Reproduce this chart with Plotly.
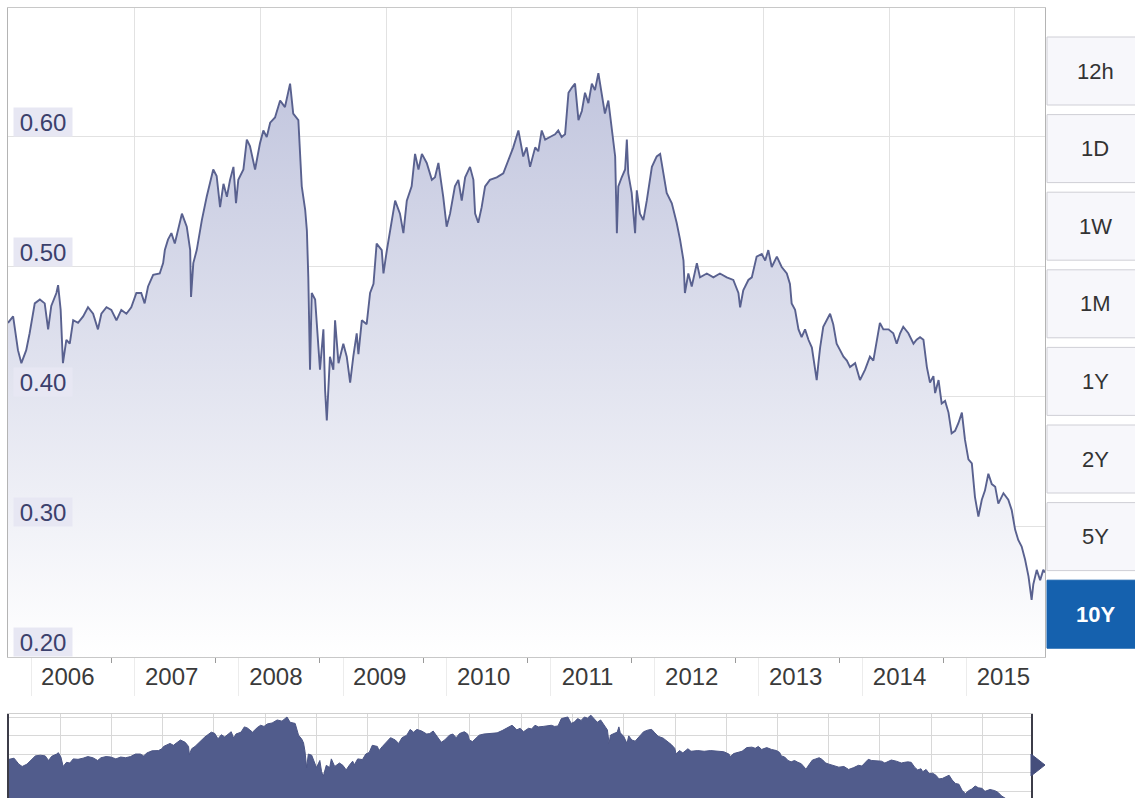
import plotly.graph_objects as go

# BRL -> USD, ten-year history
dates = [
    "2005-10-12", "2005-10-30", "2005-11-16", "2005-11-28", "2005-12-15", "2005-12-27",
    "2006-01-14", "2006-02-01", "2006-02-18", "2006-03-02", "2006-03-13", "2006-03-31",
    "2006-04-06", "2006-04-15", "2006-04-23", "2006-05-05", "2006-05-17", "2006-05-29",
    "2006-06-15", "2006-07-03", "2006-07-20", "2006-08-07", "2006-08-24", "2006-09-05",
    "2006-09-23", "2006-10-10", "2006-10-28", "2006-11-14", "2006-12-02", "2006-12-19",
    "2007-01-06", "2007-01-23", "2007-02-04", "2007-02-16", "2007-03-06", "2007-03-29",
    "2007-04-10", "2007-04-16", "2007-04-27", "2007-05-09", "2007-05-21", "2007-06-01",
    "2007-06-15", "2007-07-02", "2007-07-14", "2007-07-17", "2007-07-25", "2007-08-06",
    "2007-08-24", "2007-09-10", "2007-10-03", "2007-10-15", "2007-10-27", "2007-11-08",
    "2007-11-20", "2007-12-01", "2007-12-13", "2007-12-22", "2007-12-30",
    "2008-01-17", "2008-01-29", "2008-02-09", "2008-02-27", "2008-03-15", "2008-03-27",
    "2008-04-08", "2008-04-20", "2008-05-07", "2008-05-25", "2008-06-11", "2008-06-29",
    "2008-07-10", "2008-07-28", "2008-08-09", "2008-08-21", "2008-08-27", "2008-09-01",
    "2008-09-07", "2008-09-13", "2008-09-25", "2008-10-01", "2008-10-12", "2008-10-24",
    "2008-10-30", "2008-11-05", "2008-11-16", "2008-11-28", "2008-12-04", "2008-12-16",
    "2009-01-02", "2009-01-14", "2009-01-26", "2009-02-06", "2009-02-18", "2009-02-24",
    "2009-03-08", "2009-03-25", "2009-04-06", "2009-04-18", "2009-04-29", "2009-05-17",
    "2009-05-23", "2009-06-04", "2009-06-15", "2009-07-03", "2009-07-20", "2009-08-01",
    "2009-08-13", "2009-08-30", "2009-09-11", "2009-09-23", "2009-10-05", "2009-10-22",
    "2009-11-09", "2009-11-20", "2009-12-02", "2009-12-19", "2009-12-31",
    "2010-01-12", "2010-01-29", "2010-02-10", "2010-02-22", "2010-03-06", "2010-03-23",
    "2010-04-04", "2010-04-10", "2010-04-21", "2010-05-03", "2010-05-15", "2010-06-01",
    "2010-06-25", "2010-07-18", "2010-08-05", "2010-08-22", "2010-09-09", "2010-09-21",
    "2010-09-26", "2010-10-08", "2010-10-20", "2010-11-07", "2010-11-18", "2010-11-30",
    "2010-12-12", "2010-12-29",
    "2011-01-16", "2011-01-27", "2011-02-08", "2011-02-20", "2011-03-04", "2011-03-16",
    "2011-03-27", "2011-04-08", "2011-04-20", "2011-05-01", "2011-05-13", "2011-05-25",
    "2011-06-05", "2011-06-17", "2011-06-29", "2011-07-10", "2011-07-22", "2011-08-03",
    "2011-08-15", "2011-08-21", "2011-08-26", "2011-09-07", "2011-09-19", "2011-09-25",
    "2011-09-30", "2011-10-12", "2011-10-24", "2011-10-30", "2011-11-10", "2011-11-22",
    "2011-12-04", "2011-12-22",
    "2012-01-08", "2012-01-20", "2012-01-31", "2012-02-12", "2012-03-01", "2012-03-18",
    "2012-03-30", "2012-04-11", "2012-04-16", "2012-04-28", "2012-05-10", "2012-05-28",
    "2012-06-08", "2012-07-02", "2012-07-25", "2012-08-17", "2012-09-10", "2012-10-03",
    "2012-10-21", "2012-10-27", "2012-11-07", "2012-11-25", "2012-12-07", "2012-12-24",
    "2013-01-11", "2013-01-23", "2013-02-03", "2013-02-15", "2013-03-05", "2013-03-22",
    "2013-04-09", "2013-04-20", "2013-04-26", "2013-05-08", "2013-05-20", "2013-05-31",
    "2013-06-12", "2013-06-24", "2013-07-06", "2013-07-17", "2013-07-23", "2013-07-29",
    "2013-08-04", "2013-08-15", "2013-08-27", "2013-09-08", "2013-09-19", "2013-10-01",
    "2013-10-13", "2013-10-25", "2013-11-06", "2013-11-17", "2013-12-05", "2013-12-22",
    "2014-01-09", "2014-01-26", "2014-02-07", "2014-02-19", "2014-03-02", "2014-03-14",
    "2014-04-01", "2014-04-18", "2014-04-30", "2014-05-12", "2014-05-23", "2014-06-10",
    "2014-06-28", "2014-07-09", "2014-07-21", "2014-08-02", "2014-08-14", "2014-08-25",
    "2014-09-06", "2014-09-12", "2014-09-24", "2014-10-05", "2014-10-17", "2014-10-29",
    "2014-11-09", "2014-11-21", "2014-12-03", "2014-12-15", "2014-12-26",
    "2015-01-07", "2015-01-19", "2015-01-30", "2015-02-11", "2015-02-23", "2015-03-06",
    "2015-03-18", "2015-03-30", "2015-04-11", "2015-04-22", "2015-05-10", "2015-05-27",
    "2015-06-08", "2015-06-20", "2015-07-01", "2015-07-13", "2015-07-25", "2015-08-06",
    "2015-08-17", "2015-08-23", "2015-09-04", "2015-09-16", "2015-09-27", "2015-10-03",
]

rates = [
    0.457, 0.462, 0.436, 0.426, 0.436, 0.449,
    0.472, 0.475, 0.472, 0.452, 0.470, 0.480,
    0.486, 0.467, 0.426, 0.444, 0.441, 0.459,
    0.457, 0.462, 0.469, 0.464, 0.452, 0.464,
    0.469, 0.467, 0.459, 0.467, 0.464, 0.469,
    0.480, 0.480, 0.472, 0.485, 0.494, 0.495,
    0.503, 0.513, 0.521, 0.526, 0.518, 0.528,
    0.541, 0.531, 0.513, 0.477, 0.503, 0.513,
    0.536, 0.554, 0.575, 0.570, 0.546, 0.564,
    0.554, 0.567, 0.577, 0.549, 0.567,
    0.575, 0.598, 0.593, 0.575, 0.595, 0.605,
    0.600, 0.611, 0.615, 0.628, 0.623, 0.641,
    0.618, 0.613, 0.562, 0.544, 0.528, 0.492,
    0.421, 0.480, 0.475, 0.457, 0.421, 0.452,
    0.405, 0.382, 0.431, 0.421, 0.459, 0.426,
    0.441, 0.431, 0.411, 0.431, 0.449, 0.433,
    0.459, 0.456, 0.480, 0.487, 0.518, 0.513,
    0.495, 0.513, 0.528, 0.551, 0.541, 0.526,
    0.551, 0.562, 0.587, 0.575, 0.587, 0.580,
    0.567, 0.569, 0.580, 0.554, 0.531,
    0.541, 0.562, 0.567, 0.551, 0.569, 0.577,
    0.567, 0.541, 0.534, 0.546, 0.562, 0.567,
    0.569, 0.572, 0.582, 0.592, 0.605, 0.592,
    0.585, 0.592, 0.577, 0.592, 0.589, 0.605,
    0.598, 0.600,
    0.602, 0.605, 0.600, 0.602, 0.634, 0.638,
    0.641, 0.613, 0.620, 0.634, 0.626, 0.641,
    0.636, 0.649, 0.631, 0.618, 0.628, 0.608,
    0.585, 0.526, 0.562, 0.569, 0.575, 0.598,
    0.572, 0.557, 0.526, 0.559, 0.541, 0.536,
    0.551, 0.577,
    0.585, 0.587, 0.572, 0.557, 0.549, 0.534,
    0.521, 0.505, 0.480, 0.495, 0.485, 0.503,
    0.492, 0.495, 0.492, 0.495, 0.492, 0.490,
    0.480, 0.469, 0.482, 0.490, 0.492, 0.508,
    0.510, 0.505, 0.513, 0.500, 0.508, 0.500,
    0.495, 0.487, 0.472, 0.467, 0.452, 0.446,
    0.452, 0.444, 0.438, 0.423, 0.413, 0.426,
    0.438, 0.454, 0.459, 0.464, 0.456, 0.441,
    0.436, 0.431, 0.428, 0.423, 0.426, 0.413,
    0.421, 0.431, 0.428, 0.444, 0.457, 0.452,
    0.452, 0.449, 0.441, 0.449, 0.454, 0.449,
    0.441, 0.444, 0.446, 0.444, 0.423, 0.411,
    0.416, 0.403, 0.413, 0.395, 0.397, 0.388,
    0.372, 0.374, 0.380, 0.388, 0.367,
    0.352, 0.349, 0.323, 0.308, 0.321, 0.328,
    0.341, 0.333, 0.331, 0.318, 0.326, 0.321,
    0.313, 0.298, 0.290, 0.285, 0.275, 0.262,
    0.244, 0.256, 0.267, 0.259, 0.267, 0.265,
]

assert len(dates) == len(rates)

# x-axis furniture
year_labels = ["2006", "2007", "2008", "2009", "2010", "2011", "2012", "2013", "2014", "2015"]
label_dates = [f"{y}-05-10" for y in year_labels]
year_starts = [f"{y}-01-01" for y in year_labels]
anniversary_ticks = [f"{y}-10-12" for y in range(2006, 2015)]
grid_dates = ["2007-01-01", "2008-03-17", "2009-06-01", "2010-08-17",
              "2011-11-02", "2013-01-16", "2014-04-03", "2015-06-18"]
y_levels = [0.20, 0.30, 0.40, 0.50, 0.60]

periods = ["12h", "1D", "1W", "1M", "1Y", "2Y", "5Y", "10Y"]
active_period = "10Y"

W, H = 1135, 798
FONT = "Liberation Sans, Arial, sans-serif"


def fx(px):
    return px / W


def fy(py):
    return 1 - py / H


x_range = [dates[0], dates[-1]]
main_dom_x = [fx(8), fx(1045)]
main_dom_y = [fy(657), fy(8)]

fig = go.Figure()

# main area chart with vertical gradient fill
fig.add_trace(go.Scatter(
    x=dates, y=rates, mode="lines",
    line=dict(color="#59618f", width=1.9),
    fill="tozeroy",
    fillgradient=dict(type="vertical", start=0.2, stop=0.66,
                      colorscale=[[0, "#ffffff"], [1, "#c0c4dd"]]),
    hoverinfo="skip", showlegend=False,
))

# placeholders so the overlay axes get drawn
for ax in ["x2", "x3", "x4"]:
    fig.add_trace(go.Scatter(x=[dates[0]], y=[rates[0]], mode="none",
                             xaxis=ax, yaxis="y", hoverinfo="skip", showlegend=False))

# navigator
fig.add_trace(go.Scatter(
    x=dates, y=rates, mode="lines", xaxis="x5", yaxis="y2",
    line=dict(color="#4b5585", width=1),
    fill="tozeroy", fillcolor="#515c8c",
    hoverinfo="skip", showlegend=False,
))

grid_col = "#e2e2e2"
fig.update_layout(
    width=W, height=H,
    margin=dict(l=0, r=0, t=0, b=0),
    paper_bgcolor="white", plot_bgcolor="white",
    font=dict(family=FONT, size=24, color="#444"),
    hovermode=False,
    xaxis=dict(domain=main_dom_x, anchor="y", type="date", range=x_range,
               tickvals=grid_dates, showticklabels=False, ticks="",
               showgrid=True, gridcolor=grid_col, gridwidth=1,
               showline=True, linecolor="#c8c8c8", linewidth=1, mirror=True,
               zeroline=False),
    xaxis2=dict(domain=main_dom_x, anchor="y", overlaying="x", type="date", range=x_range,
                tickvals=label_dates, ticktext=year_labels, ticks="",
                ticklabelstandoff=3,
                showgrid=False, showline=False, zeroline=False,
                tickfont=dict(size=24, color="#3a3a3a", family=FONT)),
    xaxis3=dict(domain=main_dom_x, anchor="y", overlaying="x", type="date", range=x_range,
                tickvals=year_starts, ticks="outside", ticklen=38, tickwidth=1,
                tickcolor="#ececec", showticklabels=False,
                showgrid=False, showline=False, zeroline=False),
    xaxis4=dict(domain=main_dom_x, anchor="y", overlaying="x", type="date", range=x_range,
                tickvals=anniversary_ticks, ticks="outside", ticklen=5, tickwidth=1,
                tickcolor="#9a9a9a", showticklabels=False,
                showgrid=False, showline=False, zeroline=False),
    yaxis=dict(domain=main_dom_y, anchor="x", range=[0.2, 0.6992],
               tickvals=y_levels, showticklabels=False, ticks="",
               showgrid=True, gridcolor=grid_col, gridwidth=1,
               showline=True, linecolor="#b4b4b4", linewidth=1, mirror=True,
               zeroline=False),
    xaxis5=dict(domain=[fx(9), fx(1031)], anchor="y2", type="date", range=x_range,
                tick0="2005-10-12", dtick="M6", showticklabels=False, ticks="",
                showgrid=True, gridcolor="#d8d8d8",
                showline=True, linecolor="#cfcfcf", mirror=True, zeroline=False),
    yaxis2=dict(domain=[0, fy(714)], anchor="x5", range=[0.289, 0.654],
                tick0=0.319, dtick=0.08, showticklabels=False, ticks="",
                showgrid=True, gridcolor="#d8d8d8",
                showline=True, linecolor="#3c3c48", linewidth=2, mirror=True,
                zeroline=False),
)

# y-axis value labels sitting on their grid lines
for v in y_levels:
    fig.add_annotation(
        x=fx(13), xref="paper", xanchor="left",
        y=v, yref="y", yanchor="bottom",
        text=f"{v:.2f}", showarrow=False,
        width=58, height=28, align="center", valign="middle",
        bgcolor="#e7e7f3", borderpad=0,
        font=dict(family=FONT, size=24, color="#3b406c"),
    )

# period selector column
btn_top, btn_h, btn_pitch = 37, 68, 77.6
for i, p in enumerate(periods):
    top = btn_top + i * btn_pitch
    bottom = top + btn_h
    active = p == active_period
    fig.add_shape(
        type="rect", xref="paper", yref="paper",
        x0=fx(1047), x1=fx(1136), y0=fy(bottom), y1=fy(top),
        fillcolor="#1561ae" if active else "#f7f7fb",
        line=dict(color="#1561ae" if active else "#cfcfd6", width=1),
        layer="above",
    )
    fig.add_annotation(
        x=fx(1095), xref="paper", y=fy((top + bottom) / 2), yref="paper",
        xanchor="center", yanchor="middle", showarrow=False,
        text=f"<b>{p}</b>" if active else p,
        font=dict(family=FONT, size=22, color="white" if active else "#333"),
    )

# navigator right-hand handle arrow
fig.add_shape(
    type="path", xref="paper", yref="paper",
    path=f"M {fx(1031)} {fy(754)} L {fx(1045)} {fy(765)} L {fx(1031)} {fy(776)} Z",
    fillcolor="#454e7c", line=dict(color="#454e7c", width=1),
)

fig.write_html("out.html")
